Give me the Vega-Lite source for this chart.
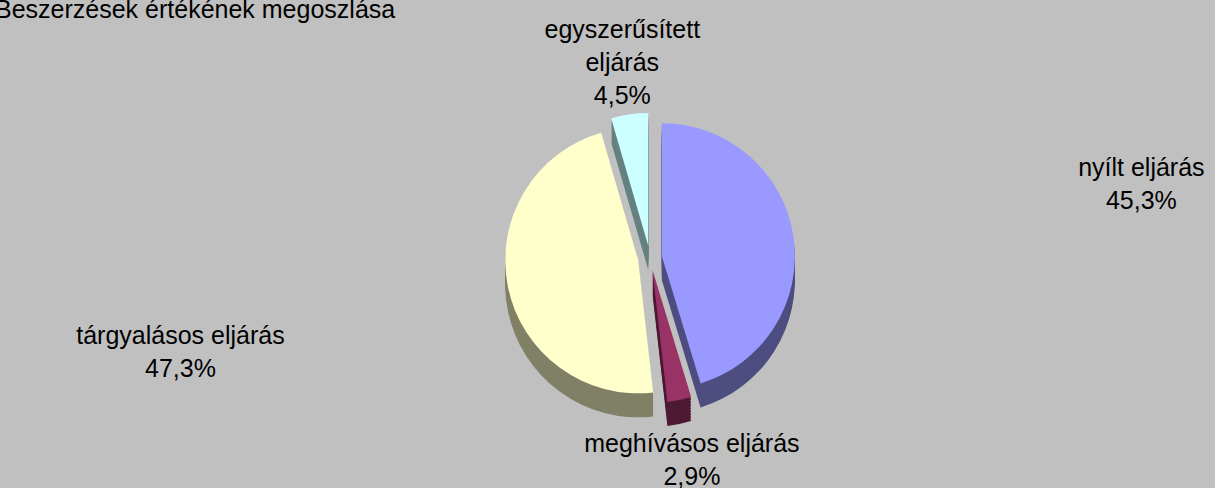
{
  "$schema": "https://vega.github.io/schema/vega-lite/v6.json",
  "width": 1300,
  "height": 466,
  "padding": {"left": 0, "right": 0, "top": 25, "bottom": 0},
  "autosize": {"type": "none"},
  "background": "#C0C0C0",
  "config": {"view": {"stroke": null}, "font": "Liberation Sans"},
  "title": {"text": "Beszerzések értékének megoszlása", "anchor": "start", "frame": "group", "fontSize": 25, "font": "Liberation Sans", "fontWeight": "normal", "color": "#000000", "dx": -5, "baseline": "alphabetic", "offset": 0, "dy": 25},
  "data": {"values": [
    {"name": "nyílt eljárás", "label": "nyílt eljárás", "value": 45.3, "idx": 1},
    {"name": "meghívásos eljárás", "label": "meghívásos eljárás", "value": 2.9, "idx": 2},
    {"name": "tárgyalásos eljárás", "label": "tárgyalásos eljárás", "value": 47.3, "idx": 3},
    {"name": "egyszerűsített eljárás", "label": "egyszerűsített\neljárás", "value": 4.5, "idx": 4}
  ]},
  "encoding": {
    "theta": {"field": "value", "type": "quantitative", "stack": true},
    "order": {"field": "idx", "type": "quantitative"}
  },
  "layer": [
    {"mark": {"type": "arc", "radius": 133, "xOffset": {"expr": "12*sin(PI*(datum.value_start+datum.value_end)/100)"}, "yOffset": {"expr": "-12*cos(PI*(datum.value_start+datum.value_end)/100)+24"}},
     "encoding": {"fill": {"field": "name", "type": "nominal", "legend": null, "scale": {"domain": ["nyílt eljárás", "meghívásos eljárás", "tárgyalásos eljárás", "egyszerűsített eljárás"], "range": ["#4D4D80", "#4D1933", "#808066", "#668080"]}}}},
    {"mark": {"type": "arc", "radius": 133, "xOffset": {"expr": "12*sin(PI*(datum.value_start+datum.value_end)/100)"}, "yOffset": {"expr": "-12*cos(PI*(datum.value_start+datum.value_end)/100)+21"}},
     "encoding": {"fill": {"field": "name", "type": "nominal", "legend": null}}},
    {"mark": {"type": "arc", "radius": 133, "xOffset": {"expr": "12*sin(PI*(datum.value_start+datum.value_end)/100)"}, "yOffset": {"expr": "-12*cos(PI*(datum.value_start+datum.value_end)/100)+18"}},
     "encoding": {"fill": {"field": "name", "type": "nominal", "legend": null}}},
    {"mark": {"type": "arc", "radius": 133, "xOffset": {"expr": "12*sin(PI*(datum.value_start+datum.value_end)/100)"}, "yOffset": {"expr": "-12*cos(PI*(datum.value_start+datum.value_end)/100)+15"}},
     "encoding": {"fill": {"field": "name", "type": "nominal", "legend": null}}},
    {"mark": {"type": "arc", "radius": 133, "xOffset": {"expr": "12*sin(PI*(datum.value_start+datum.value_end)/100)"}, "yOffset": {"expr": "-12*cos(PI*(datum.value_start+datum.value_end)/100)+12"}},
     "encoding": {"fill": {"field": "name", "type": "nominal", "legend": null}}},
    {"mark": {"type": "arc", "radius": 133, "xOffset": {"expr": "12*sin(PI*(datum.value_start+datum.value_end)/100)"}, "yOffset": {"expr": "-12*cos(PI*(datum.value_start+datum.value_end)/100)+9"}},
     "encoding": {"fill": {"field": "name", "type": "nominal", "legend": null}}},
    {"mark": {"type": "arc", "radius": 133, "xOffset": {"expr": "12*sin(PI*(datum.value_start+datum.value_end)/100)"}, "yOffset": {"expr": "-12*cos(PI*(datum.value_start+datum.value_end)/100)+6"}},
     "encoding": {"fill": {"field": "name", "type": "nominal", "legend": null}}},
    {"mark": {"type": "arc", "radius": 133, "xOffset": {"expr": "12*sin(PI*(datum.value_start+datum.value_end)/100)"}, "yOffset": {"expr": "-12*cos(PI*(datum.value_start+datum.value_end)/100)+3"}},
     "encoding": {"fill": {"field": "name", "type": "nominal", "legend": null}}},
    {"mark": {"type": "arc", "radius": 133, "xOffset": {"expr": "12*sin(PI*(datum.value_start+datum.value_end)/100)"}, "yOffset": {"expr": "-12*cos(PI*(datum.value_start+datum.value_end)/100)"}},
     "encoding": {"color": {"field": "name", "type": "nominal", "legend": null, "scale": {"domain": ["nyílt eljárás", "meghívásos eljárás", "tárgyalásos eljárás", "egyszerűsített eljárás"], "range": ["#9999FF", "#993366", "#FFFFCC", "#CCFFFF"]}}}},
    {"transform": [{"calculate": "datum.label + '\\n' + replace(format(datum.value, '.1f'), '.', ',') + '%'", "as": "txt"}],
     "mark": {"type": "text", "font": "Liberation Sans", "fontSize": 25, "color": "#000000", "lineBreak": "\n", "lineHeight": 33, "align": "center", "baseline": "middle",
              "dy": {"expr": "-16.5*(length(split(datum.txt, '\\n'))-1)"},
              "radius": {"expr": "1/sqrt(pow(sin(PI*(datum.value_start+datum.value_end)/100)/530,2)+pow(cos(PI*(datum.value_start+datum.value_end)/100)/(cos(PI*(datum.value_start+datum.value_end)/100) > 0 ? 195 : 203),2))"}},
     "encoding": {"text": {"field": "txt", "type": "nominal"}}}
  ]
}
